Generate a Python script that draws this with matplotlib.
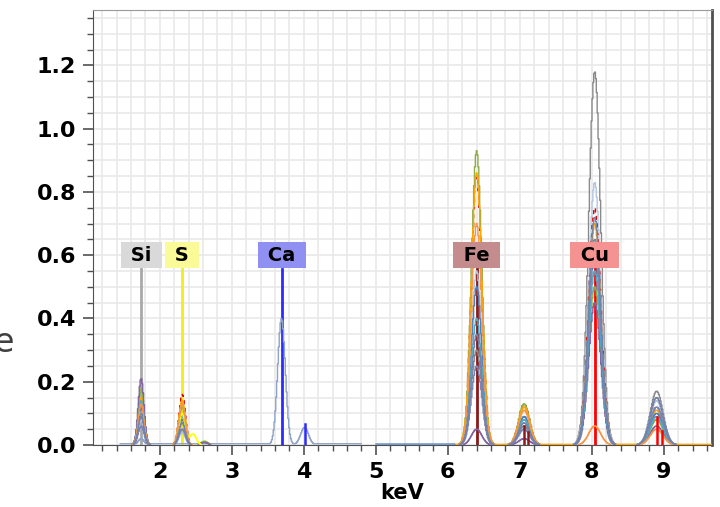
import numpy as np
import matplotlib
matplotlib.use("Agg")
import matplotlib.pyplot as plt
from matplotlib.ticker import MultipleLocator

# ---------------- data ----------------
# peak energies (keV): Si Ka, S Ka, S Kb, (minor), Ca Ka, Ca Kb, Fe Ka, Fe Kb, Cu Ka, Cu Kb
peak_energies = [1.74, 2.31, 2.46, 2.62, 3.69, 4.01, 6.40, 7.06, 8.04, 8.90]

# peak heights, one list per spectrum
spec_gray      = [0.10, 0.05, 0.00, 0.00, 0.00, 0.00, 0.30, 0.06, 1.18, 0.17]
spec_lightblue = [0.08, 0.04, 0.00, 0.00, 0.00, 0.00, 0.55, 0.09, 0.83, 0.14]
spec_calcium   = [0.02, 0.00, 0.00, 0.00, 0.40, 0.055, 0.00, 0.00, 0.00, 0.00]
spec_orange    = [0.15, 0.14, 0.00, 0.00, 0.00, 0.00, 0.86, 0.12, 0.70, 0.11]
spec_olive     = [0.18, 0.12, 0.00, 0.012, 0.00, 0.00, 0.93, 0.13, 0.50, 0.08]
spec_reddash   = [0.12, 0.16, 0.00, 0.00, 0.00, 0.00, 0.85, 0.13, 0.75, 0.12]
spec_steel     = [0.12, 0.10, 0.00, 0.00, 0.00, 0.00, 0.50, 0.09, 0.60, 0.10]
spec_purple    = [0.21, 0.08, 0.00, 0.008, 0.00, 0.00, 0.05, 0.02, 0.45, 0.06]
spec_sky       = [0.14, 0.09, 0.00, 0.00, 0.00, 0.00, 0.40, 0.08, 0.55, 0.09]
spec_slate     = [0.06, 0.05, 0.00, 0.00, 0.00, 0.00, 0.25, 0.05, 0.65, 0.12]
spec_yellow    = [0.00, 0.10, 0.035, 0.00, 0.00, 0.00, 0.00, 0.00, 0.00, 0.00]
spec_orange2   = [0.13, 0.13, 0.00, 0.00, 0.00, 0.00, 0.70, 0.11, 0.06, 0.05]
spec_bluegray  = [0.09, 0.07, 0.00, 0.00, 0.00, 0.00, 0.35, 0.07, 0.72, 0.15]

spectra = [spec_gray, spec_lightblue, spec_calcium, spec_reddash, spec_olive,
           spec_orange, spec_steel, spec_purple, spec_sky, spec_slate,
           spec_yellow, spec_orange2, spec_bluegray]
spec_colors = ['#8a8a8a', '#b4c6e0', '#8fa2c9', '#e00000', '#8fae45',
               '#ffa500', '#4f81bd', '#8064a2', '#4bacc6', '#7a86b8',
               '#ffff00', '#f79646', '#7282aa']
spec_styles = ['-', '-', '-', (0, (3, 3)), '-', '-', '-', '-', '-', '-', '-', '-', '-']

# flat background segments (spectrum index, start keV, end keV, level)
bg_index = [2, 6, 5]
bg_start = [1.45, 5.0, 6.1]
bg_end   = [4.8, 6.1, 9.67]
bg_level = [0.004, 0.003, 0.002]

# element markers
elements      = ['Si', 'S', 'Ca', 'Fe', 'Cu']
element_E     = [1.74, 2.31, 3.69, 6.40, 8.04]
element_line  = ['#a8a8a8', '#eeee22', '#2b2bff', '#8b1a1a', '#ff0000']
element_box   = ['#d9d9d9', '#fafa99', '#9090f2', '#c48c8c', '#f59292']
label_y = 0.60
line_top = 0.555

# K-beta marker lines
kb_E      = [4.01, 7.06, 7.11, 8.91, 8.98]
kb_height = [0.065, 0.06, 0.04, 0.09, 0.045]
kb_color  = ['#2b2bff', '#8b1a1a', '#8b1a1a', '#ff0000', '#ff0000']

x_ticks = [2, 3, 4, 5, 6, 7, 8, 9]
y_ticks = [0.0, 0.2, 0.4, 0.6, 0.8, 1.0, 1.2]

# ---------------- figure ----------------
fig = plt.figure(figsize=(7.2, 5.07), dpi=100)
ax = fig.add_axes([0.129, 0.1223, 0.860, 0.858])

ch = np.arange(1.30, 9.67, 0.012)


def sigma(e):
    return 0.028 + 0.0068 * e


for i, (heights, col, ls) in enumerate(zip(spectra, spec_colors, spec_styles)):
    y = np.zeros_like(ch)
    for e, h in zip(peak_energies, heights):
        if h > 0:
            y += h * np.exp(-0.5 * ((ch - e) / sigma(e)) ** 2)
    for bi, b0, b1, bl in zip(bg_index, bg_start, bg_end, bg_level):
        if bi == i:
            y = np.where((ch >= b0) & (ch <= b1), np.maximum(y, bl), y)
    y = np.where(y < 0.0015, np.nan, y)
    ax.plot(ch, y, color=col, lw=1.0, ls=ls, drawstyle='steps-mid', zorder=3)

for name, e, lc, bc in zip(elements, element_E, element_line, element_box):
    ax.plot([e, e], [0, line_top], color=lc, lw=2.0, zorder=2.5)
    ax.text(e, label_y, ' ' + name + ' ', ha='center', va='center',
            fontsize=14, fontweight='bold', color='black', zorder=5,
            bbox=dict(boxstyle='square,pad=0.18', fc=bc, ec='none'))

for e, h, c in zip(kb_E, kb_height, kb_color):
    ax.plot([e, e], [0, h], color=c, lw=1.8, zorder=4)

ax.set_xlim(1.07, 9.67)
ax.set_ylim(0, 1.375)
ax.set_xticks(x_ticks)
ax.set_yticks(y_ticks)
ax.xaxis.set_minor_locator(MultipleLocator(0.2))
ax.yaxis.set_minor_locator(MultipleLocator(0.05))
ax.set_yticklabels([f'{v:.1f}' for v in y_ticks])

ax.grid(True, which='both', color='#e9e9e9', lw=1.2, zorder=0)
ax.set_axisbelow(True)

for lab in ax.get_xticklabels() + ax.get_yticklabels():
    lab.set_fontweight('bold')
    lab.set_fontsize(16)
ax.tick_params(which='major', length=7, width=1.2, color='#505050', pad=5)
ax.tick_params(which='minor', length=4, width=1.0, color='#505050')

ax.spines['left'].set_color('#505050')
ax.spines['bottom'].set_color('#505050')
ax.spines['right'].set_color('#505050')
ax.spines['right'].set_linewidth(2.0)
ax.spines['top'].set_color('#999999')

ax.set_xlabel('keV', fontsize=15, fontweight='bold', labelpad=1)

fig.text(14 / 720, 1 - 342 / 507, 'e', ha='right', va='center',
         fontsize=24, color='#404040')

fig.savefig('out.png', dpi=100)
